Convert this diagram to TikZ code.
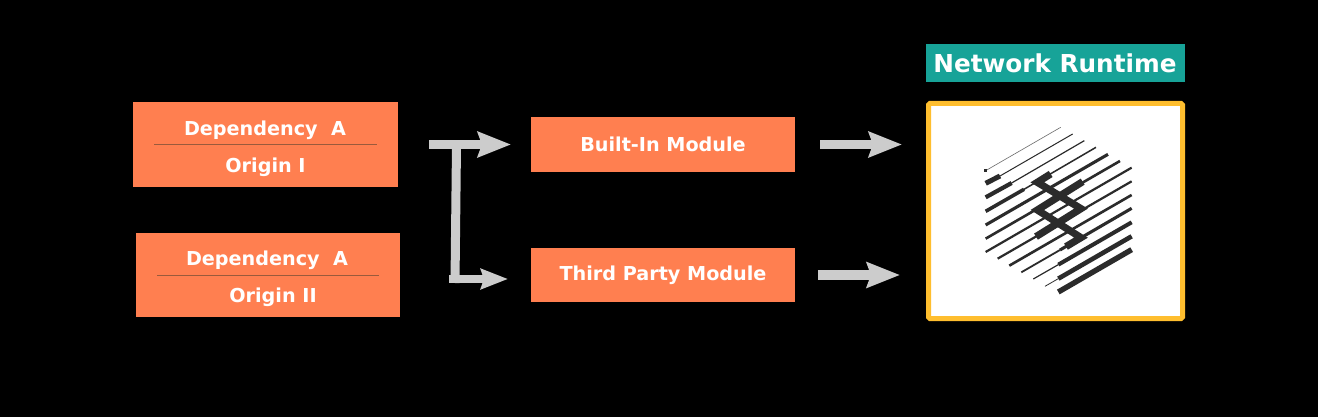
\documentclass[tikz,border=0pt]{standalone}
\usepackage{fontspec}
\setmainfont{DejaVu Sans}
\usetikzlibrary{arrows.meta}
\definecolor{coralbox}{HTML}{FF7F50}
\definecolor{arrowgray}{HTML}{CCCCCC}
\definecolor{tealtag}{HTML}{17A398}
\definecolor{goldline}{HTML}{FFBE2E}
\definecolor{rulebrown}{HTML}{9A5A3C}
\definecolor{logoink}{HTML}{2B2B2B}
\tikzset{
  x=1pt,y=-1pt,
  box/.style={fill=coralbox,draw=none,inner sep=0pt,outer sep=0pt,anchor=north west},
  lbl/.style={text=white,font=\bfseries\fontsize{19.2}{22}\selectfont,inner sep=0pt,anchor=base},
  rulediv/.style={draw=rulebrown,line width=1pt},
  blockarrow/.style={draw=arrowgray,line width=9.5pt,-{Stealth[length=33pt,width=25pt,inset=4pt]}},
  smallarrow/.style={draw=arrowgray,line width=8.5pt,-{Stealth[length=27pt,width=20pt,inset=3pt]}},
  barline/.style={draw=arrowgray,line width=9pt},
  zig/.style={draw=logoink,line width=7.2pt,line join=miter},
}
\begin{document}
\begin{tikzpicture}
\useasboundingbox (0,0) rectangle (1318,417);
\fill[black] (0,0) rectangle (1318,417);

% boxes
\node[box,minimum width=265pt,minimum height=85pt] (o1) at (133,102) {};
\node[box,minimum width=264pt,minimum height=84pt] (o2) at (136,233) {};
\node[box,minimum width=264pt,minimum height=55pt] (bi) at (531,117) {};
\node[box,minimum width=264pt,minimum height=54pt] (tp) at (531,248) {};
\node[fill=tealtag,inner sep=0pt,anchor=north west,minimum width=259pt,minimum height=38pt] (tag) at (926,44) {};
\node[fill=white,draw=goldline,line width=5pt,rounded corners=1.5pt,inner sep=0pt,outer sep=0pt,anchor=north west,minimum width=254pt,minimum height=215pt] (rt) at (928.5,103.5) {};

% labels
\node[lbl] (t1) at (265,135.5) {Dependency\ \ A};
\node[lbl] (t2) at (265.5,172.5) {Origin I};
\node[lbl] (t3) at (267,265.5) {Dependency\ \ A};
\node[lbl] (t4) at (273,302.5) {Origin II};
\node[lbl] (t5) at (663,151.5) {Built-In Module};
\node[lbl] (t6) at (663,280) {Third Party Module};
\node[text=white,font=\bfseries\fontsize{24.7}{29}\selectfont,inner sep=0pt,anchor=base] (t7) at (1055,73) {Network Runtime};

% divider rules
\draw[rulediv] (154,145) -- (377,145);
\draw[rulediv] (157,275) -- (379,275);

% connectors
\coordinate (c1) at (429,144.5);
\coordinate (c2) at (511,144.5);
\coordinate (c3) at (449,279);
\coordinate (c4) at (508,279);
\coordinate (c5) at (820,144.5);
\coordinate (c6) at (902,144.5);
\coordinate (c7) at (818,275);
\coordinate (c8) at (900,275);
\coordinate (b1) at (456.5,145);
\coordinate (b2) at (455,283);
\draw[barline] (b1) -- (b2);
\draw[blockarrow] (c1) -- (c2);
\draw[smallarrow] (c3) -- (c4);
\draw[blockarrow] (c5) -- (c6);
\draw[blockarrow] (c7) -- (c8);

% logo, in 3x crop coordinates
\begin{scope}[shift={(920,95)},x=0.3333pt,y=-0.3333pt,draw=logoink,line cap=butt]
  \draw[line width=0.6pt,draw=logoink!70] (197,227) -- (422,97);
  \draw[line width=3pt] (197,222) -- (197,232);
  \draw[line width=5pt] (197,265) -- (240,243);
  \draw[line width=1pt] (240,243) -- (458,117);
  \draw[line width=4.2pt] (197,307) -- (275,264);
  \draw[line width=1.2pt] (275,264) -- (493,137);
  \draw[line width=3.6pt] (197,349) -- (312,283);
  \draw[line width=1.5pt] (312,283) -- (528,157);
  \draw[line width=3.1pt] (197,390) -- (564,178);
  \draw[line width=2.6pt] (197,431) -- (600,198);
  \draw[line width=2.2pt] (197,471) -- (635,218);
  \draw[line width=2.2pt] (233,491) -- (635,259);
  \draw[line width=2.6pt] (268,512) -- (635,300);
  \draw[line width=1.8pt] (304,532) -- (420,465);
  \draw[line width=3.1pt] (420,465) -- (635,340);
  \draw[line width=1.2pt] (340,552) -- (415,509);
  \draw[line width=4pt] (415,509) -- (635,382);
  \draw[line width=0.8pt] (375,574) -- (415,551);
  \draw[line width=4.6pt] (415,551) -- (635,424);
  \draw[line width=5.4pt] (415,591) -- (635,464);
  \draw[zig] (392,237) -- (352,262) -- (483,341) -- (348,425);
  \draw[zig] (488,260) -- (352,345) -- (483,428) -- (438,455);
\end{scope}
\end{tikzpicture}
\end{document}
